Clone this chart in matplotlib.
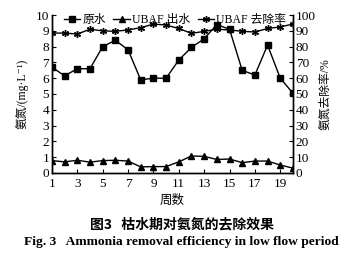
import matplotlib
matplotlib.use("Agg")
from matplotlib import pyplot as plt

plt.rcParams['font.family'] = ['Liberation Serif', 'Noto Sans CJK SC', 'DejaVu Sans']

weeks = list(range(1, 21))
raw_water = [6.7, 6.15, 6.6, 6.6, 8.0, 8.4, 7.8, 5.9, 6.0, 6.0,
             7.15, 7.95, 8.5, 9.4, 9.1, 6.5, 6.2, 8.1, 6.0, 5.05]
ubaf_out = [0.78, 0.7, 0.8, 0.68, 0.78, 0.8, 0.75, 0.38, 0.4, 0.4,
            0.7, 1.07, 1.05, 0.85, 0.88, 0.65, 0.75, 0.75, 0.5, 0.3]
removal = [88.6, 88.6, 88.0, 91.0, 90.0, 89.7, 90.6, 92.0, 94.3, 93.7,
           91.5, 88.4, 89.7, 91.0, 90.6, 89.7, 89.3, 91.5, 92.5, 94.3]
x_ticks = [1, 3, 5, 7, 9, 11, 13, 15, 17, 19]

fig = plt.figure(figsize=(3.63, 2.6), dpi=100)
ax = fig.add_axes([0.143, 0.335, 0.664, 0.607])
ax2 = ax.twinx()

l1, = ax.plot(weeks, raw_water, color='black', lw=1, marker='s', ms=4, label='原水')
l2, = ax.plot(weeks, ubaf_out, color='black', lw=1, marker='^', ms=4, label='UBAF 出水')
l3, = ax2.plot(weeks, removal, color='black', lw=1, marker=(6, 2, 0), ms=5, mew=1, label='UBAF 去除率')

ax.set_xlim(1, 20)
ax.set_ylim(0, 10)
ax2.set_ylim(0, 100)
ax.set_xticks(x_ticks)
ax.set_yticks(range(0, 11))
ax2.set_yticks(range(0, 101, 10))

for a in (ax, ax2):
    a.spines['top'].set_visible(False)
    a.tick_params(direction='in', length=3, width=0.8, labelsize=9.5, pad=2)
    for s in a.spines.values():
        s.set_linewidth(1)
ax.tick_params(axis='x', pad=4)

ax.set_xlabel('周数', fontsize=9, labelpad=3)
ax.set_ylabel('氨氮/(mg·L⁻¹)', fontsize=8.5, labelpad=5)
ax2.set_ylabel('氨氮去除率/%', fontsize=8.5, rotation=90, labelpad=3)

ax.legend(handles=[l1, l2, l3], ncol=3, loc='lower left', bbox_to_anchor=(0.05, 0.93),
          frameon=False, fontsize=8.5, handlelength=1.4, handletextpad=0.2,
          columnspacing=0.6, borderpad=0, borderaxespad=0)

fig.text(0.5, 0.135, '图3   枯水期对氨氮的去除效果', ha='center', va='center',
         fontsize=10, fontweight='bold', family=['Noto Sans CJK SC'])
fig.text(0.5, 0.07, 'Fig. 3   Ammonia removal efficiency in low flow period',
         ha='center', va='center', fontsize=9.7, fontweight='bold')

fig.savefig('out.png', dpi=100)
